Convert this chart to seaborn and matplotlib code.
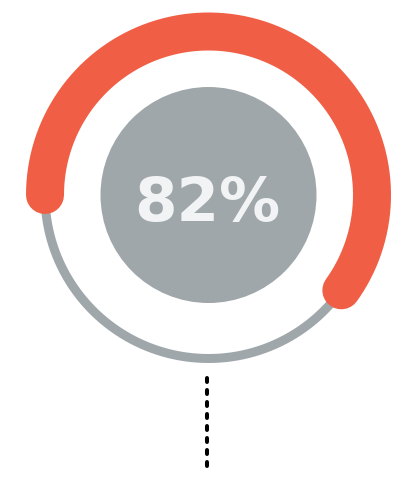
import numpy as np
import pandas as pd
import matplotlib
matplotlib.use("Agg")
import matplotlib.pyplot as plt
import seaborn as sns

# ---- data ----
percent_value = [82]
percent_label = ["82%"]

# ---- style ----
W, H, DPI = 417, 500, 100
CX, CY = 208.5, 195.0
R_RING = 163.5
R_CENTER = 108.0
GAUGE_START_DEG = 180.0        # left side (9 o'clock)
GAUGE_SWEEP_DEG = 263.0        # full-scale sweep, clockwise
ORANGE = "#F05F45"
GRAY = "#A0A7AA"
TEXT_COL = "#F2F3F5"
PX2PT = 72.0 / DPI

sns.set_theme(style="white")
plt.rcParams["font.family"] = ["DejaVu Sans"]

fig = plt.figure(figsize=(W / DPI, H / DPI), dpi=DPI)
ax = fig.add_axes([0, 0, 1, 1])
ax.set_xlim(0, W)
ax.set_ylim(H, 0)
ax.set_aspect("equal")
ax.axis("off")

# full gray track
t = np.linspace(0, 2 * np.pi, 721)
track = pd.DataFrame({"x": CX + R_RING * np.cos(t), "y": CY + R_RING * np.sin(t)})
sns.lineplot(data=track, x="x", y="y", sort=False, estimator=None, ax=ax,
             color=GRAY, linewidth=9 * PX2PT, solid_capstyle="round")

# orange progress arc: from the left, clockwise over the top
sweep = percent_value[0] / 100.0 * GAUGE_SWEEP_DEG
theta = np.radians(GAUGE_START_DEG - np.linspace(0, sweep, 400))
arc = pd.DataFrame({"x": CX + R_RING * np.cos(theta), "y": CY - R_RING * np.sin(theta)})
sns.lineplot(data=arc, x="x", y="y", sort=False, estimator=None, ax=ax,
             color=ORANGE, linewidth=38 * PX2PT, solid_capstyle="round")

# center disc
ax.add_patch(plt.Circle((CX, CY), R_CENTER, color=GRAY, zorder=3, linewidth=0))

ax.text(207, 221, percent_label[0], ha="center", va="baseline",
        fontsize=61 * PX2PT, fontweight="bold", color=TEXT_COL, zorder=4)

# dotted leader line
leader = pd.DataFrame({"x": [207, 207], "y": [378, 468]})
sns.lineplot(data=leader, x="x", y="y", sort=False, estimator=None, ax=ax,
             color="black", linewidth=4 * PX2PT, linestyle=(0, (1, 2)),
             dash_capstyle="round")

ax.set_xlabel("")
ax.set_ylabel("")
fig.savefig("out.png", dpi=DPI)
